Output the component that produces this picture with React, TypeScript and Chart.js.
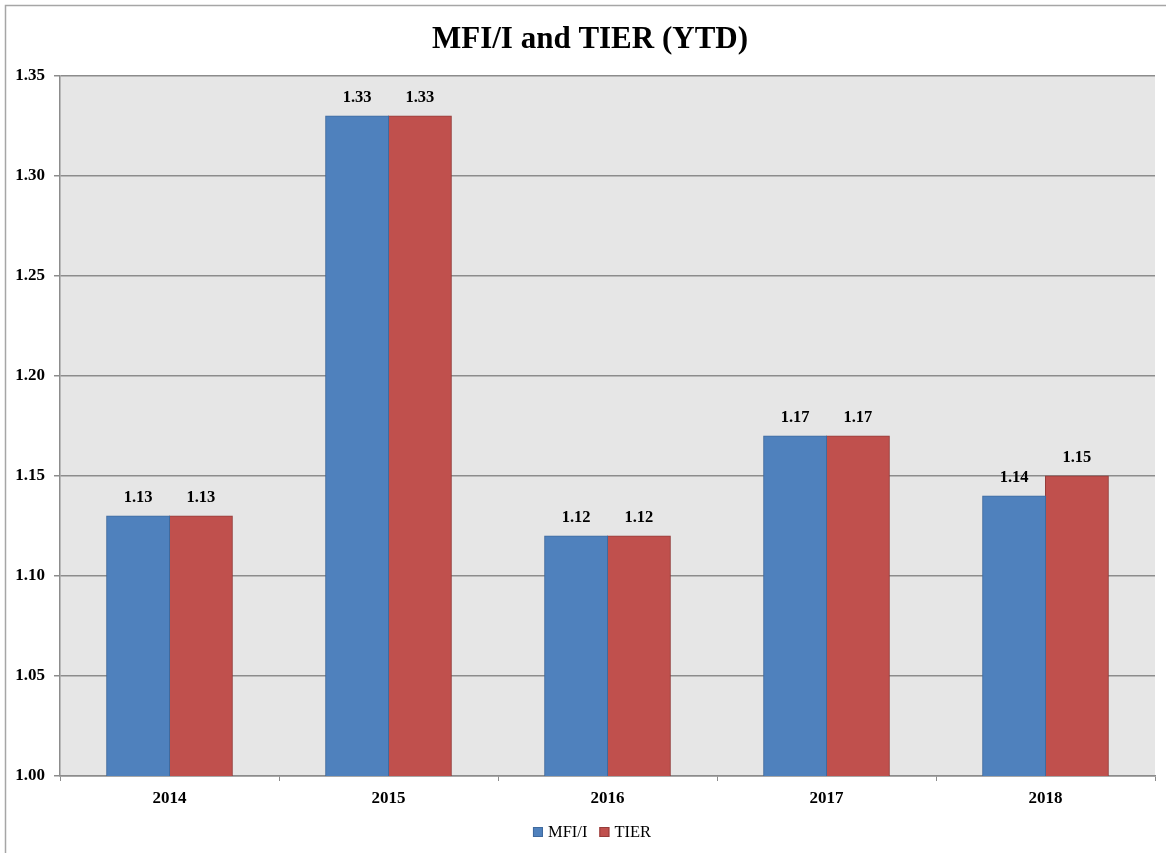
import React, { useEffect, useRef } from "react";
import { Chart, registerables } from "chart.js";

Chart.register(...registerables);

const years = ["2014", "2015", "2016", "2017", "2018"];
const mfiValues = [1.13, 1.33, 1.12, 1.17, 1.14];
const tierValues = [1.13, 1.33, 1.12, 1.17, 1.15];
const seriesNames = ["MFI/I", "TIER"];
const seriesFill = ["#4f81bd", "#c0504d"];
const seriesEdge = ["#3f6a9e", "#953c3a"];
const yTicks = [1.0, 1.05, 1.1, 1.15, 1.2, 1.25, 1.3, 1.35];
const chartTitle = "MFI/I and TIER (YTD)";

const FONT = "'Liberation Serif', 'Times New Roman', serif";

// Frame around the whole chart plus the grey plot background
const framePlugin = {
  id: "frame",
  beforeDraw(chart: any) {
    const { ctx, chartArea, width, height } = chart;
    ctx.save();
    ctx.fillStyle = "#ffffff";
    ctx.fillRect(0, 0, width, height);
    ctx.strokeStyle = "#a6a6a6";
    ctx.lineWidth = 1.5;
    ctx.strokeRect(5.5, 5.5, width + 20, height + 20);
    ctx.fillStyle = "#e6e6e6";
    ctx.fillRect(chartArea.left, chartArea.top, chartArea.right - chartArea.left, chartArea.bottom - chartArea.top);
    ctx.restore();
  },
};

// Title, value labels above each bar and the legend row underneath
const annotationPlugin = {
  id: "annotations",
  afterDatasetsDraw(chart: any) {
    const { ctx } = chart;
    ctx.save();
    ctx.fillStyle = "#000000";
    ctx.textAlign = "center";
    ctx.textBaseline = "middle";

    ctx.font = `bold 31px ${FONT}`;
    ctx.fillText(chartTitle, 590, 40);

    ctx.font = `bold 16.5px ${FONT}`;
    chart.data.datasets.forEach((ds: any, i: number) => {
      const meta = chart.getDatasetMeta(i);
      meta.data.forEach((bar: any, j: number) => {
        ctx.fillText(Number(ds.data[j]).toFixed(2), bar.x, bar.y - 18);
      });
    });

    // legend
    ctx.font = `16.5px ${FONT}`;
    ctx.textAlign = "left";
    const box = 10;
    const gapText = 5;
    const gapItem = 12;
    const widths = seriesNames.map((n) => box + gapText + ctx.measureText(n).width);
    const total = widths.reduce((a, b) => a + b, 0) + gapItem * (seriesNames.length - 1);
    let x = 592 - total / 2;
    const cy = 832;
    seriesNames.forEach((name, i) => {
      ctx.fillStyle = seriesFill[i];
      ctx.fillRect(x, cy - box / 2, box, box);
      ctx.strokeStyle = seriesEdge[i];
      ctx.lineWidth = 1;
      ctx.strokeRect(x + 0.5, cy - box / 2 + 0.5, box - 1, box - 1);
      ctx.fillStyle = "#000000";
      ctx.fillText(name, x + box + gapText, cy + 1);
      x += widths[i] + gapItem;
    });
    ctx.restore();
  },
};

export default function App() {
  const canvasRef = useRef<HTMLCanvasElement | null>(null);

  useEffect(() => {
    if (!canvasRef.current) return;
    const chart = new Chart(canvasRef.current, {
      type: "bar",
      data: {
        labels: years,
        datasets: [mfiValues, tierValues].map((values, i) => ({
          label: seriesNames[i],
          data: values,
          backgroundColor: seriesFill[i],
          borderColor: seriesEdge[i],
          borderWidth: 1,
          inflateAmount: 0.5,
          categoryPercentage: 0.574,
          barPercentage: 1.0,
        })),
      },
      plugins: [framePlugin, annotationPlugin],
      options: {
        responsive: false,
        animation: false,
        layout: { padding: { top: 76, left: 8, right: 11, bottom: 37.6 } },
        plugins: {
          title: { display: false },
          legend: { display: false },
          tooltip: { enabled: false },
        },
        scales: {
          x: {
            grid: {
              drawOnChartArea: false,
              drawTicks: true,
              tickLength: 5,
              color: "#8c8c8c",
              offset: true,
            },
            border: { display: true, color: "#8c8c8c", width: 1.5 },
            ticks: {
              color: "#000000",
              font: { family: FONT, size: 17, weight: "bold" },
              padding: 7,
            },
          },
          y: {
            min: 1.0,
            max: 1.35,
            afterFit(scale: any) {
              scale.width = 52;
            },
            afterBuildTicks(scale: any) {
              scale.ticks = yTicks.map((v) => ({ value: v }));
            },
            grid: {
              color: "#8c8c8c",
              lineWidth: 1.5,
              drawTicks: true,
              tickLength: 6,
            },
            border: { display: true, color: "#8c8c8c", width: 1.5 },
            ticks: {
              color: "#000000",
              font: { family: FONT, size: 17, weight: "bold" },
              padding: 9,
              callback: (v: any) => Number(v).toFixed(2),
            },
          },
        },
      },
    });
    return () => chart.destroy();
  }, []);

  return (
    <div style={{ position: "fixed", left: 0, top: 0, width: 1166, height: 853 }}>
      <canvas ref={canvasRef} width={1166} height={853} style={{ display: "block" }} />
    </div>
  );
}
